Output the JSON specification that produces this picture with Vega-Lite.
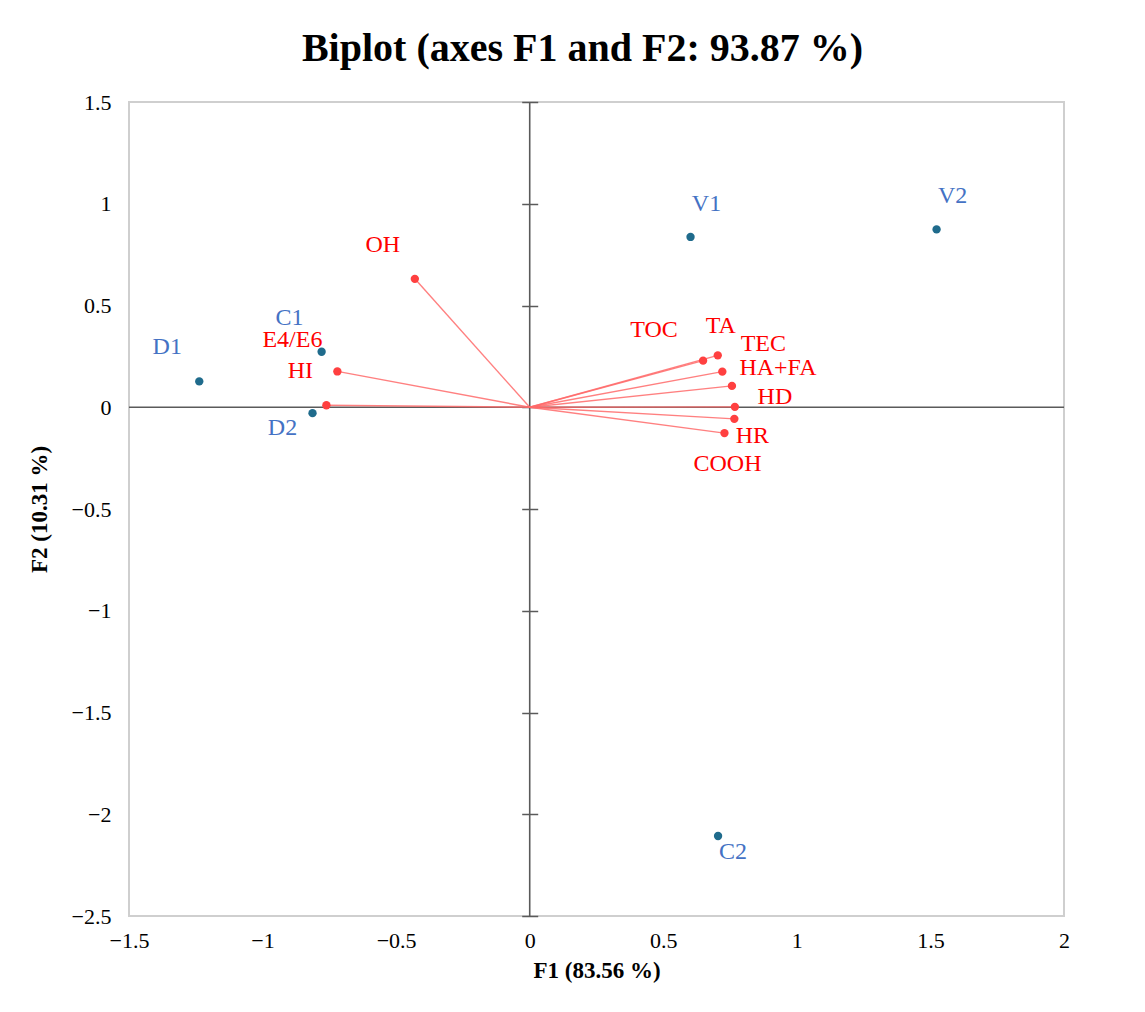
{
  "$schema": "https://vega.github.io/schema/vega-lite/v6.json",
  "width": 935,
  "height": 814,
  "padding": {"left": 28, "top": 29, "right": 5, "bottom": 5},
  "config": {
    "font": "Liberation Serif",
    "view": {"stroke": "#cfcfcf", "strokeWidth": 2}
  },
  "title": {
    "text": "Biplot (axes F1 and F2: 93.87 %)",
    "fontSize": 40,
    "fontWeight": "bold",
    "color": "#000000",
    "anchor": "middle",
    "offset": 22,
    "dx": -14
  },
  "datasets": {
    "obs": [
      {"name": "D1", "F1": -1.237, "F2": 0.127},
      {"name": "C1", "F1": -0.779, "F2": 0.273},
      {"name": "D2", "F1": -0.813, "F2": -0.029},
      {"name": "V1", "F1": 0.602, "F2": 0.837},
      {"name": "V2", "F1": 1.523, "F2": 0.874},
      {"name": "C2", "F1": 0.705, "F2": -2.107}
    ],
    "vars": [
      {"name": "OH", "F1": -0.43, "F2": 0.631},
      {"name": "HI", "F1": -0.72, "F2": 0.176},
      {"name": "E4/E6", "F1": -0.761, "F2": 0.01},
      {"name": "TOC", "F1": 0.649, "F2": 0.229},
      {"name": "TA", "F1": 0.704, "F2": 0.255},
      {"name": "TEC", "F1": 0.721, "F2": 0.175},
      {"name": "HA+FA", "F1": 0.757, "F2": 0.105},
      {"name": "HD", "F1": 0.768, "F2": 0.002},
      {"name": "HR", "F1": 0.766, "F2": -0.057},
      {"name": "COOH", "F1": 0.729, "F2": -0.127}
    ]
  },
  "resolve": {"axis": {"x": "independent", "y": "independent"}},
  "layer": [
    {
      "data": {"values": [{}]},
      "mark": {"type": "rule", "color": "#5a5a5a", "strokeWidth": 1.6},
      "encoding": {
        "y": {"datum": 0, "type": "quantitative", "scale": {"domain": [-2.5, 1.5], "nice": false, "zero": false}, "axis": null}
      }
    },
    {
      "data": {"values": [{}]},
      "mark": {"type": "rule", "color": "#5a5a5a", "strokeWidth": 1.6},
      "encoding": {
        "x": {"datum": 0, "type": "quantitative", "scale": {"domain": [-1.5, 2], "nice": false, "zero": false}, "axis": null}
      }
    },
    {
      "data": {"name": "vars"},
      "mark": {"type": "rule", "color": "#ff6a6a", "strokeWidth": 1.4, "opacity": 0.85},
      "encoding": {
        "x": {
          "field": "F1", "type": "quantitative",
          "scale": {"domain": [-1.5, 2], "nice": false, "zero": false},
          "axis": {
            "orient": "bottom",
            "values": [-1.5, -1, -0.5, 0, 0.5, 1, 1.5, 2],
            "format": "~g",
            "ticks": false, "domain": false, "grid": false,
            "labelFlush": false, "labelOverlap": false, "labelBound": false,
            "labelPadding": 14, "labelFontSize": 22, "labelColor": "#000000",
            "title": "F1 (83.56 %)", "titleFontSize": 23, "titleFontWeight": "bold",
            "titleColor": "#000000", "titlePadding": 8
          }
        },
        "y": {
          "field": "F2", "type": "quantitative",
          "scale": {"domain": [-2.5, 1.5], "nice": false, "zero": false},
          "axis": {
            "orient": "left",
            "values": [-2.5, -2, -1.5, -1, -0.5, 0, 0.5, 1, 1.5],
            "format": "~g",
            "ticks": false, "domain": false, "grid": false,
            "labelFlush": false, "labelOverlap": false, "labelBound": false,
            "labelPadding": 18, "labelFontSize": 22, "labelColor": "#000000",
            "title": "F2 (10.31 %)", "titleFontSize": 23, "titleFontWeight": "bold",
            "titleColor": "#000000", "titlePadding": 20
          }
        },
        "x2": {"datum": 0},
        "y2": {"datum": 0}
      }
    },
    {
      "data": {"name": "vars"},
      "mark": {"type": "circle", "color": "#ff4040", "opacity": 1, "size": 70},
      "encoding": {
        "x": {"field": "F1", "type": "quantitative", "scale": {"domain": [-1.5, 2], "nice": false, "zero": false}, "axis": null},
        "y": {
          "field": "F2", "type": "quantitative",
          "scale": {"domain": [-2.5, 1.5], "nice": false, "zero": false},
          "axis": {
            "orient": "right",
            "offset": -542.3,
            "values": [-2.5, -2, -1.5, -1, -0.5, 0, 0.5, 1, 1.5],
            "ticks": true, "tickSize": 16, "tickColor": "#5a5a5a", "tickWidth": 1.5,
            "labels": false, "domain": false, "grid": false, "title": null
          }
        }
      }
    },
    {
      "data": {"name": "obs"},
      "mark": {"type": "circle", "color": "#1f6b8c", "opacity": 1, "size": 70},
      "encoding": {
        "x": {"field": "F1", "type": "quantitative", "scale": {"domain": [-1.5, 2], "nice": false, "zero": false}, "axis": null},
        "y": {"field": "F2", "type": "quantitative", "scale": {"domain": [-2.5, 1.5], "nice": false, "zero": false}, "axis": null}
      }
    },
    {
      "data": {"name": "obs"},
      "transform": [{"filter": "indexof(['D1','C1'], datum.name) >= 0"}],
      "mark": {"type": "text", "fontSize": 24, "color": "#4472c4", "align": "center", "baseline": "middle", "dx": -32, "dy": -34},
      "encoding": {
        "x": {"field": "F1", "type": "quantitative", "scale": {"domain": [-1.5, 2], "nice": false, "zero": false}, "axis": null},
        "y": {"field": "F2", "type": "quantitative", "scale": {"domain": [-2.5, 1.5], "nice": false, "zero": false}, "axis": null},
        "text": {"field": "name"}
      }
    },
    {
      "data": {"name": "obs"},
      "transform": [{"filter": "indexof(['V1','V2'], datum.name) >= 0"}],
      "mark": {"type": "text", "fontSize": 24, "color": "#4472c4", "align": "center", "baseline": "middle", "dx": 16, "dy": -33},
      "encoding": {
        "x": {"field": "F1", "type": "quantitative", "scale": {"domain": [-1.5, 2], "nice": false, "zero": false}, "axis": null},
        "y": {"field": "F2", "type": "quantitative", "scale": {"domain": [-2.5, 1.5], "nice": false, "zero": false}, "axis": null},
        "text": {"field": "name"}
      }
    },
    {
      "data": {"name": "obs"},
      "transform": [{"filter": "datum.name === 'D2'"}],
      "mark": {"type": "text", "fontSize": 24, "color": "#4472c4", "align": "center", "baseline": "middle", "dx": -30, "dy": 15},
      "encoding": {
        "x": {"field": "F1", "type": "quantitative", "scale": {"domain": [-1.5, 2], "nice": false, "zero": false}, "axis": null},
        "y": {"field": "F2", "type": "quantitative", "scale": {"domain": [-2.5, 1.5], "nice": false, "zero": false}, "axis": null},
        "text": {"field": "name"}
      }
    },
    {
      "data": {"name": "obs"},
      "transform": [{"filter": "datum.name === 'C2'"}],
      "mark": {"type": "text", "fontSize": 24, "color": "#4472c4", "align": "center", "baseline": "middle", "dx": 15, "dy": 16},
      "encoding": {
        "x": {"field": "F1", "type": "quantitative", "scale": {"domain": [-1.5, 2], "nice": false, "zero": false}, "axis": null},
        "y": {"field": "F2", "type": "quantitative", "scale": {"domain": [-2.5, 1.5], "nice": false, "zero": false}, "axis": null},
        "text": {"field": "name"}
      }
    },
    {
      "data": {"name": "vars"},
      "transform": [{"filter": "datum.name === 'OH'"}],
      "mark": {"type": "text", "fontSize": 24, "color": "#ff0000", "align": "center", "baseline": "middle", "dx": -32, "dy": -34},
      "encoding": {
        "x": {"field": "F1", "type": "quantitative", "scale": {"domain": [-1.5, 2], "nice": false, "zero": false}, "axis": null},
        "y": {"field": "F2", "type": "quantitative", "scale": {"domain": [-2.5, 1.5], "nice": false, "zero": false}, "axis": null},
        "text": {"field": "name"}
      }
    },
    {
      "data": {"name": "vars"},
      "transform": [{"filter": "datum.name === 'HI'"}],
      "mark": {"type": "text", "fontSize": 24, "color": "#ff0000", "align": "center", "baseline": "middle", "dx": -37, "dy": 0},
      "encoding": {
        "x": {"field": "F1", "type": "quantitative", "scale": {"domain": [-1.5, 2], "nice": false, "zero": false}, "axis": null},
        "y": {"field": "F2", "type": "quantitative", "scale": {"domain": [-2.5, 1.5], "nice": false, "zero": false}, "axis": null},
        "text": {"field": "name"}
      }
    },
    {
      "data": {"name": "vars"},
      "transform": [{"filter": "datum.name === 'E4/E6'"}],
      "mark": {"type": "text", "fontSize": 24, "color": "#ff0000", "align": "center", "baseline": "middle", "dx": -34, "dy": -65},
      "encoding": {
        "x": {"field": "F1", "type": "quantitative", "scale": {"domain": [-1.5, 2], "nice": false, "zero": false}, "axis": null},
        "y": {"field": "F2", "type": "quantitative", "scale": {"domain": [-2.5, 1.5], "nice": false, "zero": false}, "axis": null},
        "text": {"field": "name"}
      }
    },
    {
      "data": {"name": "vars"},
      "transform": [{"filter": "datum.name === 'TOC'"}],
      "mark": {"type": "text", "fontSize": 24, "color": "#ff0000", "align": "center", "baseline": "middle", "dx": -49, "dy": -31},
      "encoding": {
        "x": {"field": "F1", "type": "quantitative", "scale": {"domain": [-1.5, 2], "nice": false, "zero": false}, "axis": null},
        "y": {"field": "F2", "type": "quantitative", "scale": {"domain": [-2.5, 1.5], "nice": false, "zero": false}, "axis": null},
        "text": {"field": "name"}
      }
    },
    {
      "data": {"name": "vars"},
      "transform": [{"filter": "datum.name === 'TA'"}],
      "mark": {"type": "text", "fontSize": 24, "color": "#ff0000", "align": "center", "baseline": "middle", "dx": 3, "dy": -29},
      "encoding": {
        "x": {"field": "F1", "type": "quantitative", "scale": {"domain": [-1.5, 2], "nice": false, "zero": false}, "axis": null},
        "y": {"field": "F2", "type": "quantitative", "scale": {"domain": [-2.5, 1.5], "nice": false, "zero": false}, "axis": null},
        "text": {"field": "name"}
      }
    },
    {
      "data": {"name": "vars"},
      "transform": [{"filter": "datum.name === 'TEC'"}],
      "mark": {"type": "text", "fontSize": 24, "color": "#ff0000", "align": "center", "baseline": "middle", "dx": 41, "dy": -28},
      "encoding": {
        "x": {"field": "F1", "type": "quantitative", "scale": {"domain": [-1.5, 2], "nice": false, "zero": false}, "axis": null},
        "y": {"field": "F2", "type": "quantitative", "scale": {"domain": [-2.5, 1.5], "nice": false, "zero": false}, "axis": null},
        "text": {"field": "name"}
      }
    },
    {
      "data": {"name": "vars"},
      "transform": [{"filter": "datum.name === 'HA+FA'"}],
      "mark": {"type": "text", "fontSize": 24, "color": "#ff0000", "align": "center", "baseline": "middle", "dx": 46, "dy": -18},
      "encoding": {
        "x": {"field": "F1", "type": "quantitative", "scale": {"domain": [-1.5, 2], "nice": false, "zero": false}, "axis": null},
        "y": {"field": "F2", "type": "quantitative", "scale": {"domain": [-2.5, 1.5], "nice": false, "zero": false}, "axis": null},
        "text": {"field": "name"}
      }
    },
    {
      "data": {"name": "vars"},
      "transform": [{"filter": "datum.name === 'HD'"}],
      "mark": {"type": "text", "fontSize": 24, "color": "#ff0000", "align": "center", "baseline": "middle", "dx": 40, "dy": -10},
      "encoding": {
        "x": {"field": "F1", "type": "quantitative", "scale": {"domain": [-1.5, 2], "nice": false, "zero": false}, "axis": null},
        "y": {"field": "F2", "type": "quantitative", "scale": {"domain": [-2.5, 1.5], "nice": false, "zero": false}, "axis": null},
        "text": {"field": "name"}
      }
    },
    {
      "data": {"name": "vars"},
      "transform": [{"filter": "datum.name === 'HR'"}],
      "mark": {"type": "text", "fontSize": 24, "color": "#ff0000", "align": "center", "baseline": "middle", "dx": 18, "dy": 17},
      "encoding": {
        "x": {"field": "F1", "type": "quantitative", "scale": {"domain": [-1.5, 2], "nice": false, "zero": false}, "axis": null},
        "y": {"field": "F2", "type": "quantitative", "scale": {"domain": [-2.5, 1.5], "nice": false, "zero": false}, "axis": null},
        "text": {"field": "name"}
      }
    },
    {
      "data": {"name": "vars"},
      "transform": [{"filter": "datum.name === 'COOH'"}],
      "mark": {"type": "text", "fontSize": 24, "color": "#ff0000", "align": "center", "baseline": "middle", "dx": 3, "dy": 31},
      "encoding": {
        "x": {"field": "F1", "type": "quantitative", "scale": {"domain": [-1.5, 2], "nice": false, "zero": false}, "axis": null},
        "y": {"field": "F2", "type": "quantitative", "scale": {"domain": [-2.5, 1.5], "nice": false, "zero": false}, "axis": null},
        "text": {"field": "name"}
      }
    }
  ]
}
